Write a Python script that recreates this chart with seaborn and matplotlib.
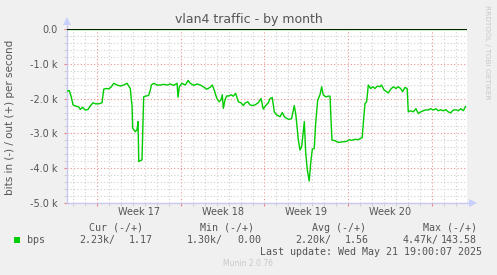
import numpy as np
import pandas as pd
import matplotlib
matplotlib.use("Agg")
import matplotlib.pyplot as plt
import matplotlib.transforms as mtransforms
from matplotlib.ticker import FixedLocator, MultipleLocator
import seaborn as sns

# ---- data (days since Mon 2025-04-21 00:00, i.e. start of week 17) ----
days = [-2.51, -2.32, -2.15, -2.01, -1.81, -1.53, -1.40, -1.20, -0.98, -0.75,
        -0.56, -0.33, -0.14, 0.14, 0.42, 0.56, 0.78, 0.98, 1.20, 1.40,
        1.67, 1.95, 2.23, 2.51, 2.78, 2.93, 2.98, 3.20, 3.34, 3.43,
        3.49, 3.62, 3.76, 3.90, 4.04, 4.32, 4.46, 4.54, 4.74, 5.02,
        5.29, 5.58, 5.86, 6.13, 6.41, 6.69, 6.77, 6.88, 7.10, 7.38,
        7.61, 7.80, 8.08, 8.36, 8.63, 8.88, 9.17, 9.44, 9.64, 9.80,
        10.01, 10.20, 10.36, 10.47, 10.56, 10.70, 10.84, 10.97, 11.20, 11.39,
        11.59, 11.81, 12.04, 12.23, 12.37, 12.60, 12.79, 12.98, 13.21, 13.48,
        13.71, 13.90, 14.10, 14.32, 14.46, 14.65, 14.82, 15.02, 15.30, 15.49,
        15.66, 15.86, 16.05, 16.27, 16.49, 16.63, 16.83, 16.97, 17.11, 17.33,
        17.44, 17.58, 17.74, 17.86, 18.00, 18.16, 18.28, 18.45, 18.64, 18.78,
        18.91, 19.12, 19.33, 19.48, 19.56, 19.64, 19.89, 20.17, 20.59, 20.87,
        21.09, 21.29, 21.56, 21.84, 22.04, 22.17, 22.26, 22.40, 22.54, 22.68,
        22.88, 23.05, 23.24, 23.43, 23.65, 23.79, 23.99, 24.21, 24.35, 24.55,
        24.77, 24.99, 25.18, 25.38, 25.55, 25.74, 25.93, 26.02, 26.22, 26.44,
        26.66, 26.86, 27.06, 27.27, 27.50, 27.69, 27.89, 28.11, 28.33, 28.53,
        28.73, 28.95, 29.17, 29.36, 29.56, 29.78, 30.01, 30.20, 30.41, 30.62,
        30.81]
in_bps = [1780, 1770, 1950, 2180, 2210, 2240, 2310, 2250, 2330, 2310,
          2210, 2120, 2150, 2150, 2120, 1730, 1710, 1720, 1660, 1560,
          1610, 1640, 1610, 1560, 1710, 2230, 2850, 2950, 2900, 2660,
          3810, 3780, 3760, 1950, 1930, 1910, 1750, 1610, 1560, 1610,
          1610, 1590, 1610, 1580, 1620, 1560, 1960, 1660, 1560, 1610,
          1480, 1560, 1620, 1580, 1610, 1660, 1730, 1680, 1610, 1760,
          1990, 2090, 2040, 1890, 2280, 2040, 1920, 1930, 1890, 1930,
          1850, 2090, 2120, 2200, 2130, 2090, 2180, 2200, 2180, 2120,
          2000, 2300, 2200, 2120, 2000, 1970, 2380, 2470, 2520, 2400,
          2520, 2570, 2600, 2570, 2200, 2490, 3190, 3480, 3380, 2660,
          3520, 4050, 4370, 3860, 3450, 3430, 2700, 2040, 1890, 1660,
          1890, 1950, 1930, 1930, 2600, 3190, 3210, 3260, 3240, 3230,
          3180, 3200, 3170, 3180, 3140, 3120, 2710, 2140, 2090, 1610,
          1710, 1660, 1710, 1640, 1660, 1610, 1750, 1800, 1840, 1730,
          1660, 1710, 1660, 1710, 1800, 1680, 1710, 2380, 2350, 2380,
          2290, 2430, 2380, 2350, 2320, 2330, 2290, 2330, 2290, 2350,
          2320, 2350, 2320, 2380, 2410, 2330, 2320, 2350, 2290, 2350,
          2230]
out_days = [-2.51, 30.81]
out_bps = [1.2, 1.2]

week_starts = [0, 7, 14, 21, 28]
week_labels = ["Week 17", "Week 18", "Week 19", "Week 20"]
y_major = [0, -1000, -2000, -3000, -4000, -5000]
y_labels = ["0.0", "-1.0 k", "-2.0 k", "-3.0 k", "-4.0 k", "-5.0 k"]

legend_head = ["Cur (-/+)", "Min (-/+)", "Avg (-/+)", "Max (-/+)"]
legend_vals = ["2.23k/", "1.17", "1.30k/", "0.00", "2.20k/", "1.56", "4.47k/", "143.58"]

XMIN, XMAX = -2.51, 30.93
YMIN, YMAX = -5000, 0

# ---- figure ----
W, H = 497, 275
fig = plt.figure(figsize=(W / 100, H / 100), dpi=100, facecolor="#F0F0F0")
ax = fig.add_axes([67 / W, (H - 203) / H, 400 / W, 174 / H])
ax.set_facecolor("white")

df_in = pd.DataFrame({"day": days, "bps": [-v for v in in_bps]})
df_out = pd.DataFrame({"day": out_days, "bps": out_bps})
sns.lineplot(data=df_out, x="day", y="bps", ax=ax, color="#00CC00", linewidth=1.0, zorder=3)
sns.lineplot(data=df_in, x="day", y="bps", ax=ax, color="#00CC00", linewidth=1.0, zorder=3)
ax.axhline(0, color="black", linewidth=1.2, zorder=4)

ax.set_xlim(XMIN, XMAX)
ax.set_ylim(YMIN, YMAX)

gray = "#555555"
ax.xaxis.set_major_locator(FixedLocator(week_starts))
ax.xaxis.set_minor_locator(MultipleLocator(1))
ax.set_xticklabels([])
ax.yaxis.set_major_locator(FixedLocator(y_major))
ax.yaxis.set_minor_locator(MultipleLocator(200))
ax.set_yticklabels(y_labels)

ax.grid(which="major", color="#EE9090", linestyle=(0, (1, 2)), linewidth=0.8, zorder=1)
ax.grid(which="minor", color="#D0D0D0", linestyle=(0, (1, 2)), linewidth=0.8, zorder=0)
ax.set_axisbelow(True)

ax.tick_params(axis="both", which="major", length=2, width=0.8, color="#F08080",
               labelsize=7, labelcolor=gray)
ax.tick_params(axis="both", which="minor", length=2, width=0.6, color="#C8C8C8")
ax.tick_params(axis="y", which="major", pad=5)

# week labels centred in each week
trans = mtransforms.blended_transform_factory(ax.transData, ax.transAxes)
for i, lab in enumerate(week_labels):
    ax.text((week_starts[i] + week_starts[i + 1]) / 2, -0.052, lab, transform=trans,
            ha="center", va="center", fontsize=7, color=gray)

for s in ["top", "right"]:
    ax.spines[s].set_visible(False)
for s in ["left", "bottom"]:
    ax.spines[s].set_color("#C8C8F0")
    ax.spines[s].set_linewidth(1.0)

# axis arrows (Munin style)
ax.plot([0, 0], [1.0, 1.04], transform=ax.transAxes, color="#C8C8F0", lw=1.0, clip_on=False)
ax.plot([0], [1.045], transform=ax.transAxes, marker="^", markersize=6, color="#C8D0FF",
        clip_on=False, markeredgewidth=0)
ax.plot([1.0, 1.012], [0, 0], transform=ax.transAxes, color="#C8C8F0", lw=1.0, clip_on=False)
ax.plot([1.014], [0], transform=ax.transAxes, marker=">", markersize=6, color="#C8D0FF",
        clip_on=False, markeredgewidth=0)

ax.set_xlabel("")
ax.set_ylabel("")

def fy(py):
    return 1 - py / H

def fx(px):
    return px / W

fig.text(fx(248.5), fy(19), "vlan4 traffic - by month", ha="center", va="center",
         fontsize=9, color=gray)
fig.text(fx(10), fy(117), "bits in (-) / out (+) per second", rotation=90,
         ha="center", va="center", fontsize=7.5, color=gray)
fig.text(fx(487), fy(5), "RRDTOOL / TOBI OETIKER", rotation=270, ha="center", va="top",
         fontsize=5.3, color="#C8C8C8")

mono = "DejaVu Sans Mono"
for lab, px in zip(legend_head, [89, 200, 311.7, 422.7]):
    fig.text(fx(px), fy(228), lab, ha="left", va="center", fontsize=7.2, family=mono, color=gray)

fig.patches.append(plt.Rectangle((fx(14), fy(242.5)), 6 / W, 6 / H, transform=fig.transFigure,
                                 facecolor="#00CC00", edgecolor="none"))
fig.text(fx(27), fy(240), "bps", ha="left", va="center", fontsize=7.2, family=mono, color=gray)
for lab, px in zip(legend_vals, [79, 129, 187, 237, 295, 345, 403, 441]):
    fig.text(fx(px), fy(240), lab, ha="left", va="center", fontsize=7.2, family=mono, color=gray)

fig.text(fx(482), fy(252), "Last update: Wed May 21 19:00:07 2025", ha="right", va="center",
         fontsize=7.2, family=mono, color=gray)
fig.text(fx(248), fy(264), "Munin 2.0.76", ha="center", va="center", fontsize=5.5,
         color="#C8C8C8")

fig.savefig("out.png", dpi=100, facecolor=fig.get_facecolor())
